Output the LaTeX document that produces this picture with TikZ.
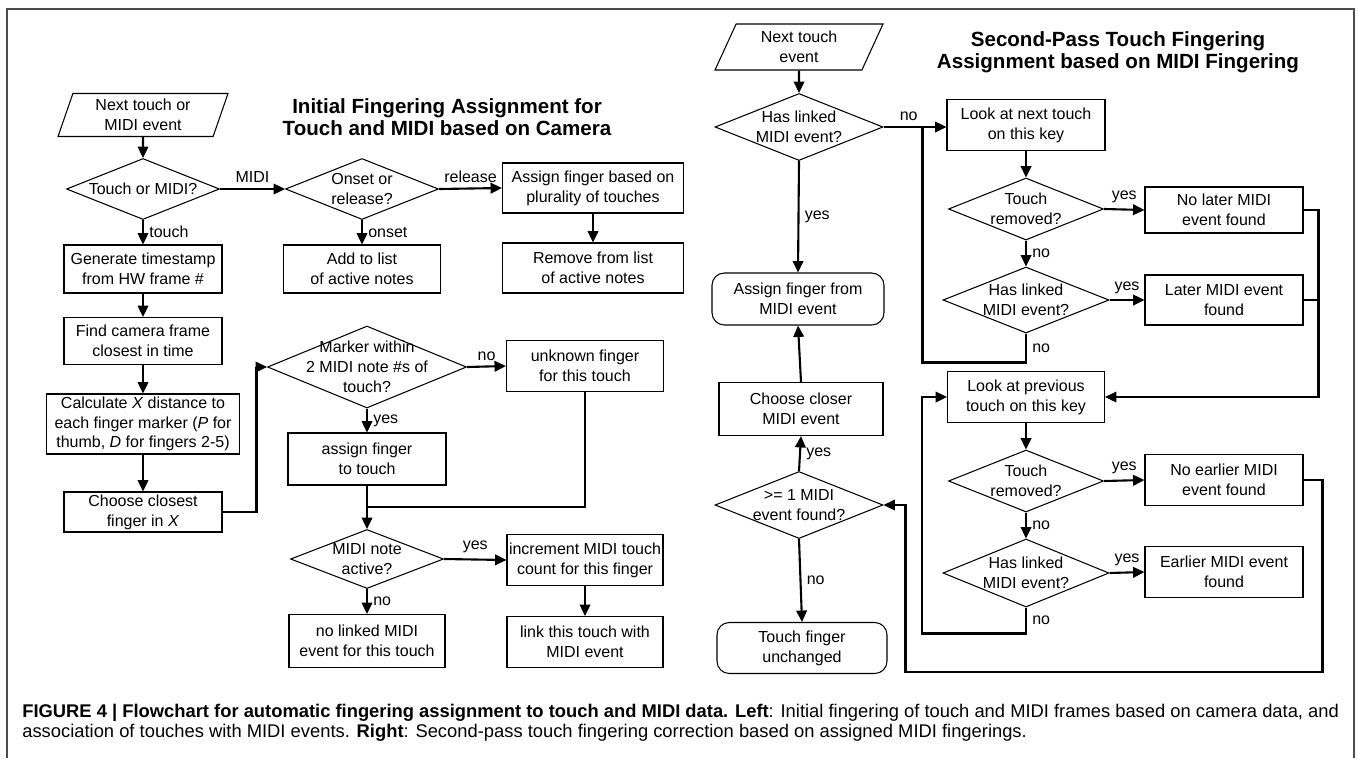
\documentclass[tikz,border=0pt]{standalone}
\usepackage{fontspec}
\setmainfont{Liberation Sans}
\usetikzlibrary{shapes.geometric, arrows.meta, calc}

\tikzset{
    sz/.style 2 args = {minimum width=#1*0.02cm, minimum height=#2*0.02cm},
}

\begin{document}
\begin{tikzpicture}[
        x                 = 0.02cm,
        y                 = -0.02cm,
        font              = \fontsize{9.1}{11.3}\selectfont,
        every node/.style = {align=center},
        box/.style        = {draw, rectangle, line width=0.6pt, inner sep=1pt},
        rbox/.style       = {box, rounded corners=7pt},
        query/.style      = {draw, diamond, line width=0.6pt, inner sep=-10pt, aspect=2.5},
        io/.style         = {draw, trapezium, trapezium stretches body=true, line width=0.6pt, inner sep=1pt},
        flow/.style       = {draw, line width=1.2pt, -{Triangle[length=6.5pt, width=6pt]}},
        wire/.style       = {draw, line width=1.2pt},
        lbl/.style        = {inner sep=3pt},
        title/.style      = {font=\fontsize{11.7}{12.6}\selectfont\bfseries},
      ]
    \useasboundingbox (0,0) rectangle (1358,758);
    % frame
    \draw[gray!60!black, line width=0.6pt] (7,758) -- (7,9) -- (1354,9) -- (1354,758);

    % left chart: initial fingering
    \node[title] (ltitle) at (447,117) {Initial Fingering Assignment for\\Touch and MIDI based on Camera};
    \node[io, trapezium left angle=67, trapezium right angle=113, sz={170}{43}] (nextev) at (143,115) {Next touch or\\MIDI event};
    \node[query, sz={153}{61}] (tom) at (143,189) {Touch or MIDI?};
    \node[query, sz={153}{61}] (onset) at (362,189) {Onset or\\release?};
    \node[box, sz={157}{48}] (add) at (362,269) {Add to list\\of active notes};
    \node[box, sz={181}{50}] (plural) at (593,188) {Assign finger based on\\plurality of touches};
    \node[box, sz={181}{50}] (remove) at (593,268) {Remove from list\\of active notes};
    \node[box, sz={158}{48}] (gen) at (143,269) {Generate timestamp\\from HW frame \#};
    \node[box, sz={158}{47}] (find) at (143,341) {Find camera frame\\closest in time};
    \node[box, sz={193}{60}] (calc) at (143,424) {Calculate \textit{X} distance to\\each finger marker (\textit{P} for\\thumb, \textit{D} for fingers 2-5)};
    \node[box, sz={158}{40}] (choose) at (143,512) {Choose closest\\finger in \textit{X}};
    \node[query, sz={199}{82}] (marker) at (367,367) {Marker within\\2 MIDI note \#s of\\touch?};
    \node[box, sz={157}{51}] (unknown) at (585,366) {unknown finger\\for this touch};
    \node[box, sz={158}{52}] (assignf) at (367,459) {assign finger\\to touch};
    \node[query, sz={153}{59}] (active) at (367,559) {MIDI note\\active?};
    \node[box, sz={156}{51}] (incr) at (585,560) {increment MIDI touch\\count for this finger};
    \node[box, sz={156}{51}] (linkt) at (585,642) {link this touch with\\MIDI event};
    \node[box, sz={156}{53}] (nolink) at (367,641) {no linked MIDI\\event for this touch};

    \draw[flow] (nextev) -- (tom);
    \draw[flow] (tom.east) -- node[lbl, above] {MIDI} (onset.west);
    \draw[flow] (tom.south) -- node[lbl, right] {touch} (gen.north);
    \draw[flow] (onset.south) -- node[lbl, right] {onset} (add.north);
    \draw[flow] (onset.east) -- node[lbl, above] {release} (plural.west);
    \draw[flow] (plural) -- (remove);
    \draw[flow] (gen) -- (find);
    \draw[flow] (find) -- (calc);
    \draw[flow] (calc) -- (choose);
    \draw[flow] (choose.east) -- ++(34,0) |- (marker.west);
    \draw[flow] (marker.east) -- node[lbl, above] {no} (unknown.west);
    \draw[flow] (marker.south) -- node[lbl, right] {yes} (assignf.north);
    \coordinate (merge) at ($(assignf.south)!0.5!(active.north)$);
    \draw[wire] (unknown.south) |- (merge);
    \draw[flow] (assignf.south) -- (active.north);
    \draw[flow] (active.east) -- node[lbl, above] {yes} (incr.west);
    \draw[flow] (active.south) -- node[lbl, right] {no} (nolink.north);
    \draw[flow] (incr) -- (linkt);

    % right chart: second pass
    \node[title] (rtitle) at (1118,52) {Second-Pass Touch Fingering\\Assignment based on MIDI Fingering};
    \node[io, trapezium left angle=59, trapezium right angle=121, sz={168}{46}] (nexttouch) at (799,47) {Next touch\\event};
    \node[query, sz={168}{67}] (haslink0) at (799,127) {Has linked\\MIDI event?};
    \node[rbox, sz={172}{52}] (frommidi) at (798,299) {Assign finger from\\MIDI event};
    \node[box, sz={164}{53}] (closer) at (801,409) {Choose closer\\MIDI event};
    \node[query, sz={168}{67}] (found) at (799,505) {>= 1 MIDI\\event found?};
    \node[rbox, sz={170}{51}] (unchanged) at (802,648) {Touch finger\\unchanged};
    \node[box, sz={158}{51}] (lookn) at (1026,125) {Look at next touch\\on this key};
    \node[query, sz={155}{62}] (removed1) at (1026,209) {Touch\\removed?};
    \node[box, sz={158}{46}] (nolater) at (1224,210) {No later MIDI\\event found};
    \node[query, sz={166}{66}] (haslink1) at (1026,300) {Has linked\\MIDI event?};
    \node[box, sz={158}{50}] (later) at (1224,300) {Later MIDI event\\found};
    \node[box, sz={157}{51}] (lookp) at (1026,397) {Look at previous\\touch on this key};
    \node[query, sz={155}{62}] (removed2) at (1026,481) {Touch\\removed?};
    \node[box, sz={158}{51}] (noearlier) at (1224,480) {No earlier MIDI\\event found};
    \node[query, sz={166}{68}] (haslink2) at (1026,573) {Has linked\\MIDI event?};
    \node[box, sz={158}{51}] (earlier) at (1224,572) {Earlier MIDI event\\found};

    \draw[flow] (nexttouch) -- (haslink0);
    \draw[flow] (haslink0.east) -- node[lbl, above, pos=0.4] {no} (haslink0.east -| lookn.west);
    \draw[flow] (haslink0.south) -- node[lbl, right] {yes} (frommidi.north);
    \draw[flow] (closer.north) -- (frommidi.south);
    \draw[flow] (found.north) -- node[lbl, right] {yes} (closer.south);
    \draw[flow] (found.south) -- node[lbl, right] {no} (unchanged.north);
    \draw[flow] (lookn) -- (removed1);
    \draw[flow] (removed1.east) -- node[lbl, above] {yes} (nolater.west);
    \draw[flow] (removed1.south) -- node[lbl, right] {no} (haslink1.north);
    \draw[flow] (haslink1.east) -- node[lbl, above] {yes} (later.west);
    \coordinate (jn) at ($(haslink0.east)+(39,0)$);
    \draw[wire] (haslink1.south) -- node[lbl, right] {no} ++(0,29) -| (jn);
    \draw[flow] (nolater.east) -- ++(15,0) |- (lookp.east);
    \draw[wire] (later.east) -- ++(15,0);
    \draw[flow] (lookp) -- (removed2);
    \draw[flow] (removed2.east) -- node[lbl, above] {yes} (noearlier.west);
    \draw[flow] (removed2.south) -- node[lbl, right] {no} (haslink2.north);
    \draw[flow] (haslink2.east) -- node[lbl, above] {yes} (earlier.west);
    \draw[flow] (haslink2.south) -- node[lbl, right] {no} ++(0,26) -| ($(lookp.west)+(-25,0)$) -- (lookp.west);
    \coordinate (lowrun) at ($(found.east)+(22,167)$);
    \draw[flow] (noearlier.east) -- ++(19,0) |- (lowrun) |- (found.east);

    % caption
    \node[anchor=west, align=left, inner sep=0pt, font=\fontsize{10.45}{11.6}\selectfont] (caption) at (22,723)
        {\textbf{FIGURE 4 | Flowchart for automatic fingering assignment to touch and MIDI data. Left}: Initial fingering of touch and MIDI frames based on camera data, and\\
         association of touches with MIDI events. \textbf{Right}: Second-pass touch fingering correction based on assigned MIDI fingerings.};
\end{tikzpicture}
\end{document}
